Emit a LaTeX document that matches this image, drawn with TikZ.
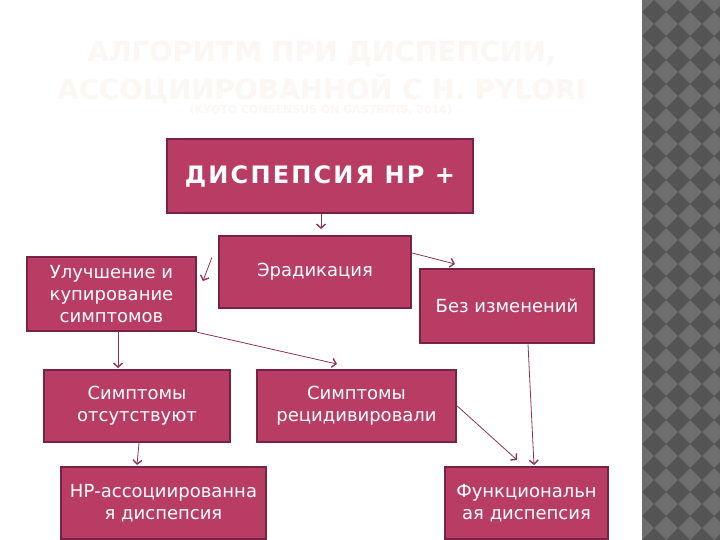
\documentclass[tikz,border=0pt]{standalone}
\usepackage{fontspec}
\setmainfont{DejaVu Sans}
\usetikzlibrary{arrows.meta}
\definecolor{boxfill}{RGB}{185,60,100}
\definecolor{boxline}{RGB}{120,35,68}
\definecolor{arr}{RGB}{140,52,92}
\definecolor{ttl}{RGB}{252,247,242}
\definecolor{stripL}{RGB}{110,110,110}
\definecolor{stripD}{RGB}{84,84,84}
\begin{document}
\begin{tikzpicture}[x=1pt,y=-1pt,
  box/.style={draw=boxline, line width=2.5pt, fill=boxfill, text=white, align=center,
    font=\fontsize{18}{22}\selectfont, inner sep=0pt},
  conn/.style={draw=arr, line width=0.8pt, -{Straight Barb[length=4pt,width=9pt,line width=1.4pt]}},
  ttlstyle/.style={text=ttl, inner sep=0pt}
]
\useasboundingbox (0,0) rectangle (720,540);
\fill[white] (0,0) rectangle (720,540);
% decorative strip
\begin{scope}
\clip (642,0) rectangle (720,540);
\fill[stripL] (642,0) rectangle (720,540);
\foreach \i in {0,...,3}{\foreach \j in {0,...,23}{
  \fill[stripD] ({654+24*\i},{24*\j}) -- ++(12,12) -- ++(-12,12) -- ++(-12,-12) -- cycle;
}}
\end{scope}
% title
\node[ttlstyle, font=\bfseries\fontsize{27.5}{30}\selectfont] (title1) at (322,53) {АЛГОРИТМ ПРИ ДИСПЕПСИИ,};
\node[ttlstyle, font=\bfseries\fontsize{27.5}{30}\selectfont] (title2) at (322,89) {АССОЦИИРОВАННОЙ С H. PYLORI};
\node[ttlstyle, font=\bfseries\fontsize{11}{13}\selectfont] (sub) at (321,110) {(KYOTO CONSENSUS ON GASTRITIS, 2014)};
% boxes
\node[box, minimum width=306pt, minimum height=74pt, font=\bfseries\fontsize{24}{28}\selectfont\addfontfeature{LetterSpace=9}] (dys) at (320,176) {ДИСПЕПСИЯ НР +};
\node[box, minimum width=192pt, minimum height=72pt] (era) at (315,272) {Эрадикация};
\node[box, minimum width=169pt, minimum height=74pt] (ulu) at (111.5,294) {Улучшение и\\купирование\\симптомов};
\node[box, minimum width=174pt, minimum height=74pt] (bez) at (507,306) {Без изменений};
\node[box, minimum width=186pt, minimum height=72pt] (sim) at (137,406) {Симптомы\\отсутствуют};
\node[box, minimum width=199pt, minimum height=72pt] (rec) at (356.5,406) {Симптомы\\рецидивировали};
\node[box, minimum width=205pt, minimum height=72pt] (hp) at (163.5,503) {НР-ассоциированна\\я диспепсия};
\node[box, minimum width=163pt, minimum height=72pt] (fun) at (526.5,503) {Функциональн\\ая диспепсия};
% connector ends
\coordinate (e1) at (321,229);
\coordinate (e2) at (203,281);
\coordinate (e3) at (455,264);
\coordinate (e4) at (118,368);
\coordinate (e5) at (337,364);
\coordinate (e6) at (534,465);
\coordinate (e7) at (517,460);
\coordinate (e8) at (137,465);
% connectors
\draw[conn] (dys.south -| e1) -- (e1);
\draw[conn] ([xshift=-6pt,yshift=-23pt]era.north west) -- (e2);
\draw[conn] ([yshift=19pt]era.east) -- (e3);
\draw[conn] (ulu.south -| e4) -- (e4);
\draw[conn] (ulu.south east) -- (e5);
\draw[conn] ([xshift=21pt]bez.south) -- (e6);
\draw[conn] (rec.east) -- (e7);
\draw[conn] ([xshift=2pt]sim.south) -- (e8);
\end{tikzpicture}
\end{document}
